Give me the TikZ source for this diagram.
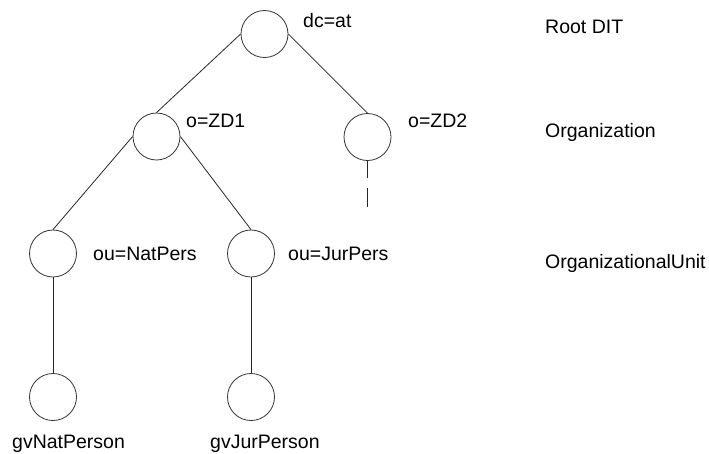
\documentclass[tikz,border=0pt]{standalone}
\usepackage{fontspec}
\setmainfont{Liberation Sans}
\begin{document}
\begin{tikzpicture}[x=1pt,y=-1pt,
  dn/.style={circle,draw=black!80,line width=0.8pt,minimum size=47pt,inner sep=0pt},
  lbl/.style={anchor=base west,inner sep=0pt,font=\fontsize{19.5}{22}\selectfont},
  edge/.style={draw=black!85,line width=0.8pt}]
\useasboundingbox (0,0) rectangle (709,453);
\node[dn] (root) at (264.5,34) {};
\node[dn] (zd1) at (156.5,136.5) {};
\node[dn] (zd2) at (367.5,137) {};
\node[dn] (nat) at (53,253.5) {};
\node[dn] (jur) at (251,253.5) {};
\node[dn] (gvnat) at (53,397) {};
\node[dn] (gvjur) at (251,397) {};
\coordinate (c1) at (367.5,178);
\coordinate (c2) at (367.5,188);
\coordinate (c3) at (367.5,207);
\node[lbl] (tdc) at (303,27) {dc=at};
\node[lbl] (tzd1) at (186,127) {o=ZD1};
\node[lbl] (tzd2) at (408,127) {o=ZD2};
\node[lbl] (tnat) at (93,260) {ou=NatPers};
\node[lbl] (tjur) at (288,260) {ou=JurPers};
\node[lbl] (tgvnat) at (12,448) {gvNatPerson};
\node[lbl] (tgvjur) at (210,448) {gvJurPerson};
\node[lbl] (troot) at (545,33) {Root DIT};
\node[lbl] (torg) at (545,137) {Organization};
\node[lbl] (tou) at (545,268) {OrganizationalUnit};
\draw[edge] (root.west) -- (zd1.north);
\draw[edge] (root.east) -- (zd2.north);
\draw[edge] (zd1.west) -- (nat.north);
\draw[edge] (zd1.east) -- (jur.north);
\draw[edge] (nat.south) -- (gvnat.north);
\draw[edge] (jur.south) -- (gvjur.north);
\draw[edge] (zd2.south) -- (c1);
\draw[edge] (c2) -- (c3);
\end{tikzpicture}
\end{document}
